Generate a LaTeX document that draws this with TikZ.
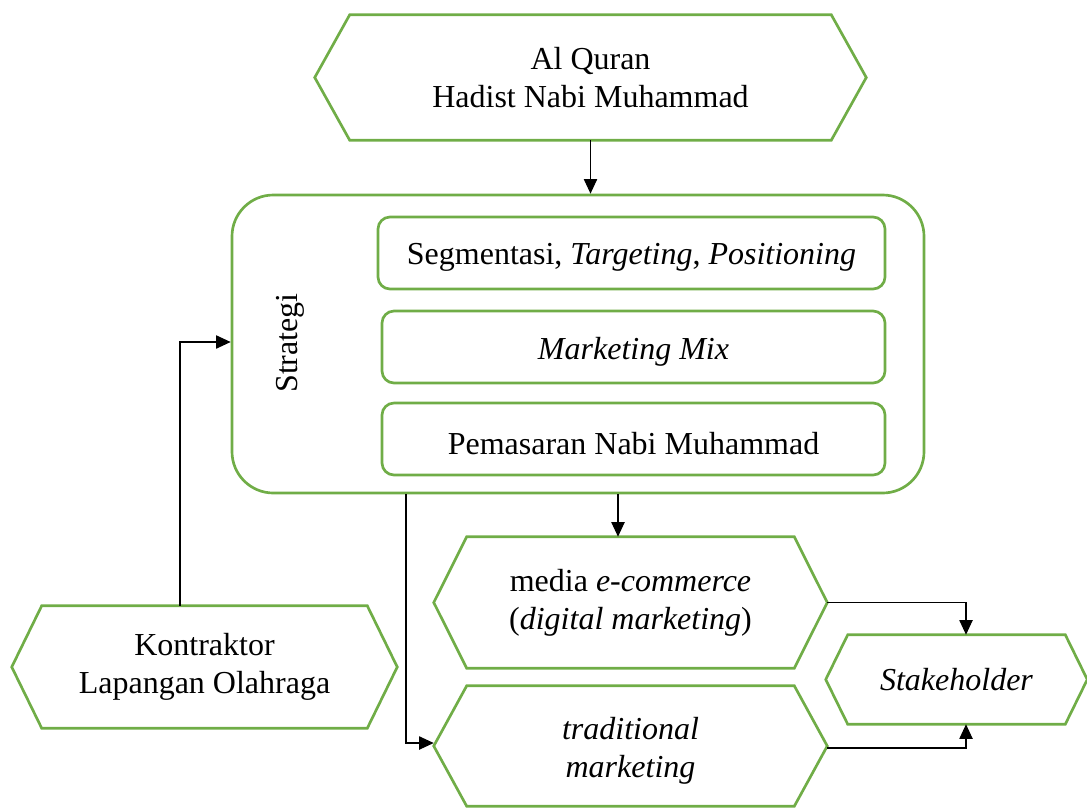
\documentclass[tikz,border=0pt]{standalone}
\usepackage{fontspec}
\setmainfont{Liberation Serif}
\usetikzlibrary{calc,arrows.meta}

\definecolor{leaf}{HTML}{70AD47}

% hexagon outline around a named rectangular node, #2 = side inset
\newcommand{\hexframe}[2]{%
  \draw[hexline] (#1.west) -- ($(#1.north west)+(#2,0)$) -- ($(#1.north east)+(-#2,0)$)
    -- (#1.east) -- ($(#1.south east)+(-#2,0)$) -- ($(#1.south west)+(#2,0)$) -- cycle;}
% lower a text line a little without changing its box
\newcommand{\lowered}[1]{\raisebox{-3.5pt}[\height][\depth]{#1}}

\tikzset{
  txt/.style={font=\fontsize{24}{28.5}\selectfont, align=center, inner sep=0pt},
  hexbox/.style={txt, draw=none, rectangle},
  hexline/.style={draw=leaf, line width=2pt, line join=miter},
  outerbox/.style={draw=leaf, line width=2pt, rounded corners=31pt, inner sep=0pt},
  innerbox/.style={txt, draw=leaf, line width=2pt, rounded corners=9pt},
  arr/.style={draw=black, line width=0.9pt, -{Triangle[length=11pt,width=10pt]}}
}

\begin{document}
\begin{tikzpicture}[x=0.75pt,y=-0.75pt]
\useasboundingbox (0,0) rectangle (1087,807);

% sources
\node[hexbox, minimum width=551*0.75pt, minimum height=125*0.75pt] (quran) at (590.5,77.5)
  {Al Quran\\Hadist Nabi Muhammad};
\hexframe{quran}{35}

% strategy block
\node[outerbox, minimum width=692*0.75pt, minimum height=298*0.75pt] (strat) at (578,344) {};
\node[txt, rotate=90] (stratlbl) at (290,343) {Strategi};
\node[innerbox, minimum width=507*0.75pt, minimum height=72*0.75pt] (stp) at (631.5,253)
  {\lowered{Segmentasi, \textit{Targeting}, \textit{Positioning}}};
\node[innerbox, minimum width=503*0.75pt, minimum height=72*0.75pt] (mix) at (633.5,347)
  {\lowered{\textit{Marketing Mix}}};
\node[innerbox, minimum width=503*0.75pt, minimum height=72*0.75pt] (nabi) at (633.5,439)
  {\lowered{Pemasaran Nabi Muhammad}};

% channels
\node[hexbox, minimum width=393*0.75pt, minimum height=131*0.75pt] (media) at (630.5,602.5)
  {media \textit{e-commerce}\\(\textit{digital marketing})};
\hexframe{media}{33}
\node[hexbox, minimum width=393*0.75pt, minimum height=120*0.75pt] (trad) at (630.5,746)
  {\lowered{\textit{traditional}}\\\lowered{\textit{marketing}}};
\hexframe{trad}{33}

% stakeholder
\node[hexbox, minimum width=261*0.75pt, minimum height=89*0.75pt] (stake) at (956.5,679.5)
  {\textit{Stakeholder}};
\hexframe{stake}{22}

% contractor
\node[hexbox, minimum width=385*0.75pt, minimum height=122*0.75pt] (kontr) at (204.5,667)
  {Kontraktor\\Lapangan Olahraga};
\hexframe{kontr}{30}

% connectors
\draw[arr] (quran.south) -- (quran.south |- strat.north);
\draw[arr] ($(kontr.north)+(-24.5,0)$) |- ($(strat.west)+(0,-2)$);
\coordinate (sm) at ($(strat.south)+(40,0)$);
\draw[arr] (sm) -- (sm |- media.north);
\draw[arr] ($(strat.south)+(-172,0)$) |- ($(trad.west)+(0,-3)$);
\draw[arr] (media.east) -| ($(stake.north)+(9.5,0)$);
\draw[arr] ($(trad.east)+(0,2)$) -| ($(stake.south)+(9.5,0)$);
\end{tikzpicture}
\end{document}
